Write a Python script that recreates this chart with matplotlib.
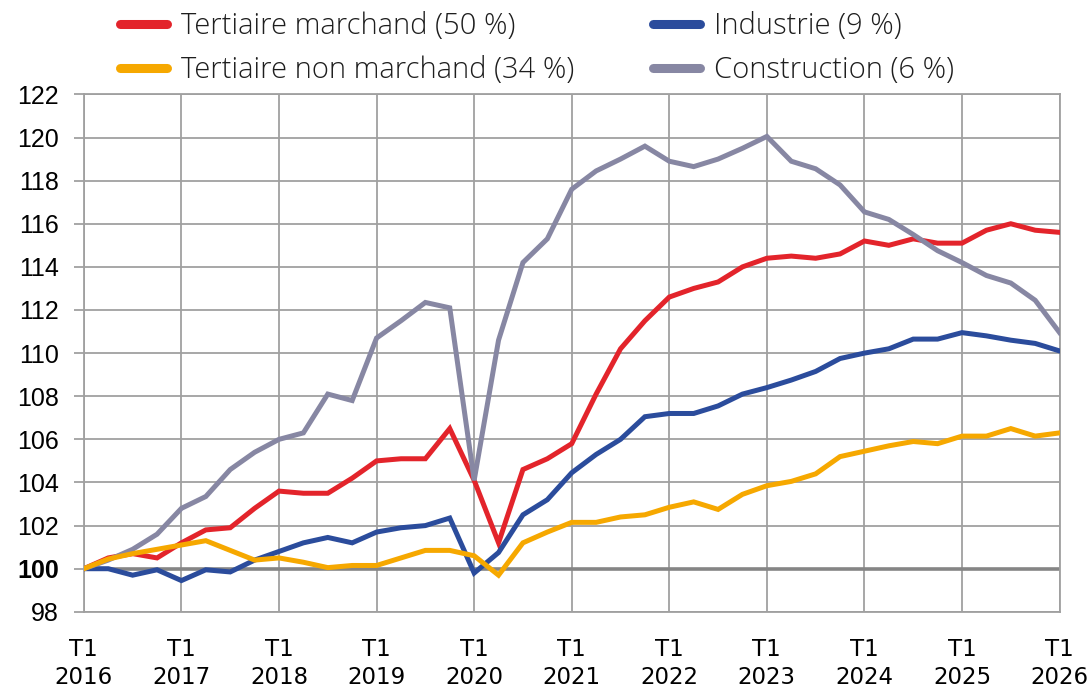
import numpy as np
import matplotlib
matplotlib.use("Agg")
import matplotlib.pyplot as plt

# quarterly index, T1 2016 = 100
years = list(range(2016, 2027))
tick_labels = ["T1\n%d" % y for y in years]

tertiaire_marchand = [
    100.0, 100.5, 100.7, 100.5, 101.2, 101.8, 101.9, 102.8,
    103.6, 103.5, 103.5, 104.2, 105.0, 105.1, 105.1, 106.5,
    104.1, 101.2, 104.6, 105.1, 105.8, 108.1, 110.2, 111.5,
    112.6, 113.0, 113.3, 114.0, 114.4, 114.5, 114.4, 114.6,
    115.2, 115.0, 115.3, 115.1, 115.1, 115.7, 116.0, 115.7, 115.6,
]
industrie = [
    100.0, 100.0, 99.7, 99.95, 99.45, 99.95, 99.85, 100.4,
    100.8, 101.2, 101.45, 101.2, 101.7, 101.9, 102.0, 102.35,
    99.8, 100.75, 102.5, 103.2, 104.45, 105.3, 106.0, 107.05,
    107.2, 107.2, 107.55, 108.1, 108.4, 108.75, 109.15, 109.75,
    110.0, 110.2, 110.65, 110.65, 110.95, 110.8, 110.6, 110.45, 110.1,
]
tertiaire_non_marchand = [
    100.0, 100.45, 100.7, 100.9, 101.1, 101.3, 100.85, 100.4,
    100.5, 100.3, 100.05, 100.15, 100.15, 100.5, 100.85, 100.85,
    100.6, 99.7, 101.2, 101.7, 102.15, 102.15, 102.4, 102.5,
    102.85, 103.1, 102.75, 103.45, 103.85, 104.05, 104.4, 105.2,
    105.45, 105.7, 105.9, 105.8, 106.15, 106.15, 106.5, 106.15, 106.3,
]
construction = [
    100.0, 100.4, 100.9, 101.6, 102.8, 103.35, 104.6, 105.4,
    106.0, 106.3, 108.1, 107.8, 110.7, 111.5, 112.35, 112.1,
    104.1, 110.6, 114.2, 115.3, 117.6, 118.45, 119.0, 119.6,
    118.9, 118.65, 119.0, 119.5, 120.05, 118.9, 118.55, 117.8,
    116.55, 116.2, 115.5, 114.75, 114.2, 113.6, 113.25, 112.45, 110.95,
]

series = [
    ("Tertiaire marchand (50 %)", tertiaire_marchand, "#e3242b"),
    ("Industrie (9 %)", industrie, "#2b4c9c"),
    ("Construction (6 %)", construction, "#8787a3"),
    ("Tertiaire non marchand (34 %)", tertiaire_non_marchand, "#f6a800"),
]

plt.rcParams["font.family"] = ["Open Sans", "DejaVu Sans"]

fig = plt.figure(figsize=(10.89, 6.89), dpi=100)
ax = fig.add_axes([0.077, 0.112, 0.896, 0.751])

x = np.arange(len(construction))
lines = {}
for (label, vals, color) in series:
    (ln,) = ax.plot(x, vals, color=color, lw=3.6, label=label,
                    solid_joinstyle="miter", zorder=3)
    lines[label] = ln

ax.axhline(100, color="#858585", lw=2.6, zorder=2)

ax.set_xlim(0, 40)
ax.set_ylim(98, 122)
ax.set_yticks(range(98, 123, 2))
ax.set_xticks(range(0, 41, 4))
ax.set_xticklabels(tick_labels)
ax.grid(True, color="#a0a0a0", lw=1.3, zorder=1)
for s in ax.spines.values():
    s.set_color("#a0a0a0")
    s.set_linewidth(1.3)

ax.tick_params(axis="y", length=7, width=1.3, color="#a0a0a0",
               labelsize=18, pad=11)
ax.tick_params(axis="x", length=0, labelsize=16.5, pad=19)
for lab in ax.get_xticklabels():
    lab.set_family(["Liberation Sans Narrow", "DejaVu Sans"])
    lab.set_linespacing(1.25)
for lab in ax.get_yticklabels():
    lab.set_family(["Liberation Sans", "DejaVu Sans"])
    if lab.get_text() == "100":
        lab.set_fontweight("bold")

order = ["Tertiaire marchand (50 %)", "Tertiaire non marchand (34 %)",
         "Industrie (9 %)", "Construction (6 %)"]
leg = fig.legend([lines[k] for k in order], order, ncol=2,
                 loc="upper left", bbox_to_anchor=(0.086, 1.021),
                 frameon=False, handlelength=1.6,
                 handletextpad=0.5, columnspacing=2.7, labelspacing=0.5,
                 prop={"family": ["Open Sans", "DejaVu Sans"],
                       "weight": "light", "size": 21})
for h in leg.legend_handles:
    h.set_linewidth(6.5)
    h.set_solid_capstyle("round")
for t in leg.get_texts():
    t.set_color("#1e1e1e")

fig.savefig("out.png", dpi=100)
